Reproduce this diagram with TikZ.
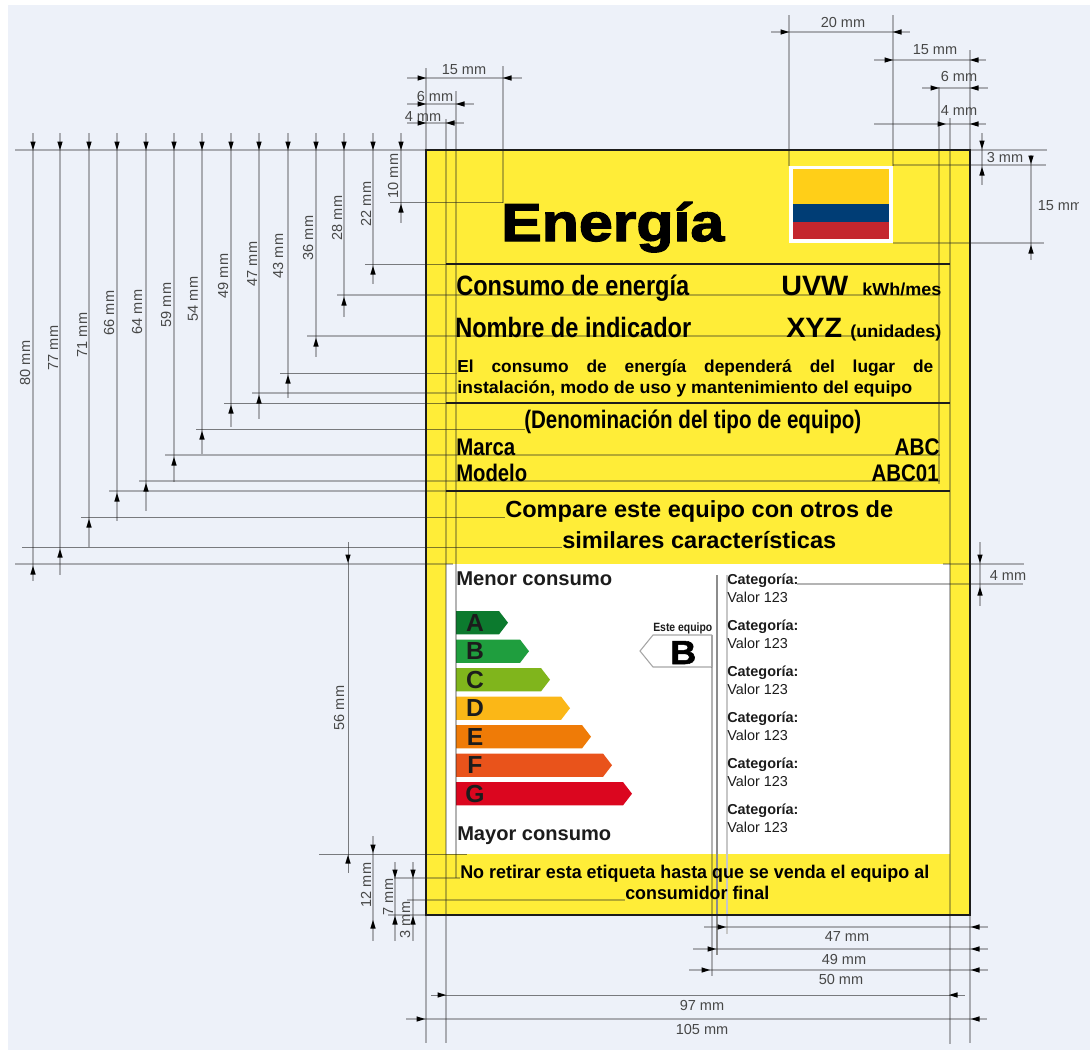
\documentclass[tikz,border=0pt]{standalone}
\usepackage{fontspec}
\usepackage{graphicx}
\setmainfont{Liberation Sans}
\newfontface\heavyfont[FakeBold=2.2]{Liberation Sans Bold}
\newfontface\heavyb[FakeBold=1.6]{Liberation Sans Bold}
\definecolor{bgblue}{HTML}{EDF1F9}
\definecolor{labelyellow}{HTML}{FFED38}
\definecolor{ink}{HTML}{1C1C1C}
\definecolor{flagY}{HTML}{FFCF18}
\definecolor{flagB}{HTML}{003D75}
\definecolor{flagR}{HTML}{C4262E}
\definecolor{barA}{HTML}{0C7A2E}
\definecolor{barB}{HTML}{1F9E3E}
\definecolor{barC}{HTML}{80B51C}
\definecolor{barD}{HTML}{FBB717}
\definecolor{barE}{HTML}{EF7B07}
\definecolor{barF}{HTML}{E9531B}
\definecolor{barG}{HTML}{DB061F}
\newcommand\sz[1]{\fontsize{#1}{#1}\selectfont}
\newcommand\wfit[2]{\resizebox{\dimexpr#1pt*3/4\relax}{\height}{#2}}
\tikzset{
  dimline/.style={draw=black!85,draw opacity=.34,line width=.85pt},
  dimdark/.style={draw=black!90,draw opacity=.55,line width=.75pt},
  dimtext/.style={text=black!72,font=\fontsize{10.9}{11}\selectfont,inner sep=0pt},
  base/.style={inner sep=0pt,text=black,font=\bfseries},
  bw/.style={base,anchor=base west},
  be/.style={base,anchor=base east},
  bc/.style={base,anchor=base},
  tipfill/.style={fill=black,draw=none},
  energyletter/.style={base,anchor=base,text=ink,font=\bfseries\sz{18.5}},
  cathead/.style={bw,text=ink,font=\bfseries\sz{10.8}},
  catval/.style={inner sep=0pt,anchor=base west,text=ink,font=\sz{10.8}},
}
\newcommand\tipd[2]{\fill[tipfill] (#1,#2) -- ++(-2.7,-8.5) -- ++(5.4,0) -- cycle;}
\newcommand\tipu[2]{\fill[tipfill] (#1,#2) -- ++(-2.7,8.5) -- ++(5.4,0) -- cycle;}
\newcommand\tipr[2]{\fill[tipfill] (#1,#2) -- ++(-8.5,-2.7) -- ++(0,5.4) -- cycle;}
\newcommand\tipl[2]{\fill[tipfill] (#1,#2) -- ++(8.5,-2.7) -- ++(0,5.4) -- cycle;}
\begin{document}
\begin{tikzpicture}[x=0.75pt,y=-0.75pt]
\useasboundingbox (0,0) rectangle (1090,1051);
\fill[white] (0,0) rectangle (1090,1051);
\fill[bgblue] (8,5) rectangle (1090,1050);
% label body
\fill[labelyellow] (426,150) rectangle (970,915);
\fill[white] (446,564) rectangle (950,854);
% flag
\fill[white] (789,166) rectangle (893,243);
\fill[flagY] (793,169) rectangle (889,204);
\fill[flagB] (793,204) rectangle (889,222);
\fill[flagR] (793,222) rectangle (889,239);
% energy bars
\foreach \yy/\tp/\col in {611/508/barA,639.5/529/barB,668/550/barC,696.5/570/barD,725/591/barE,753.5/612/barF,782/632/barG}{
  \fill[\col] (456,\yy) -- ({\tp-9},\yy) -- (\tp,\yy+11.7) -- ({\tp-9},\yy+23.4) -- (456,\yy+23.4) -- cycle;
}
% pointer box
\draw[black!35,line width=.8pt,fill=white] (712,635) -- (653,635) -- (640,651) -- (653,667) -- (712,667);
% top-left vertical dimension lines
\foreach \x/\b in {33/581,60/575,89/547,117/521,146/511,174/482,202/454,231/427,259/419,288/398,316/357,344/317,373/284,401/223}{
  \draw[dimline] (\x,133) -- (\x,\b);
  \tipd{\x}{150}
}
\draw[dimline] (15,150) -- (426,150);
\draw[dimline] (970,150) -- (1047,150);
% left reference lines
\foreach \y/\a/\b in {295/337/940,336/307/940,393/252/457,455/165/940,481/139/940,491/109/446,564/15/453}{
  \draw[dimline] (\a,\y) -- (\b,\y);
}
\foreach \y/\a/\b in {202/390/503,264/365/446,373/280/457,403/224/446,429/196/525,517/81/505,547/22/562}{
  \draw[dimdark] (\a,\y) -- (\b,\y);
}
\foreach \x/\y in {401/204,373/266,344/297,316/338,288/375,259/395,231/405,202/431,174/457,146/483,117/493,89/519,60/549,33/566}{
  \tipu{\x}{\y}
}
% top-left horizontal dims
\draw[dimline] (426,68) -- (426,1043);
\draw[dimline] (503,66) -- (503,203);
\draw[dimline] (446,119) -- (446,1043);
\draw[dimline] (456,91) -- (456,878);
\draw[dimline] (407,78) -- (522,78); \tipr{426}{78} \tipl{503}{78}
\draw[dimline] (407,104) -- (474,104); \tipr{426}{104} \tipl{456}{104}
\draw[dimline] (407,123) -- (464,123); \tipr{426}{123} \tipl{446}{123}
% top-right horizontal dims
\draw[dimline] (789,15) -- (789,166);
\draw[dimline] (893,15) -- (893,166);
\draw[dimline] (970,50) -- (970,1043);
\draw[dimline] (939,87) -- (939,484);
\draw[dimline] (950,118) -- (950,1044);
\draw[dimline] (771,32) -- (910,32); \tipr{789}{32} \tipl{893}{32}
\draw[dimline] (874,60) -- (986,60); \tipr{893}{60} \tipl{970}{60}
\draw[dimline] (922,88) -- (988,88); \tipr{939}{88} \tipl{970}{88}
\draw[dimline] (874,124) -- (986,124); \tipr{946}{124} \tipl{970}{124}
% right vertical dims
\draw[dimline] (982,133) -- (982,185); \tipd{982}{149} \tipu{982}{167}
\draw[dimline] (893,165) -- (1046,165);
\draw[dimline] (1031,155) -- (1031,260); \tipd{1031}{164} \tipu{1031}{245}
\draw[dimline] (893,243) -- (1044,243);
\draw[dimline] (980,542) -- (980,606); \tipd{980}{563} \tipu{980}{587}
\draw[dimline] (943,564) -- (1024,564);
\draw[dimline] (797,584) -- (1023,584);
% 56 mm and bottom-left
\draw[dimdark] (348,542) -- (348,873); \tipd{348}{563} \tipu{348}{855}
\draw[dimdark] (319,854) -- (467,854);
\draw[dimline] (373,836) -- (373,941); \tipd{373}{853} \tipu{373}{920}
\draw[dimline] (395,862) -- (395,941); \tipd{395}{878} \tipu{395}{916}
\draw[dimline] (413,862) -- (413,941); \tipd{413}{878} \tipu{413}{916}
\draw[dimline] (394,878) -- (460,878);
\draw[dimline] (407,900) -- (625,900);
\draw[dimline] (388,915) -- (426,915);
% bottom-right vertical lines
\draw[black!45,line width=1.1pt] (717,575) -- (717,955);
\draw[black!22,line width=1.2pt] (727,575) -- (727,934);
\draw[dimline] (712,667) -- (712,976);
\draw[black!35,line width=.8pt] (712,635) -- (712,667);
% bottom dims
\draw[dimline] (704,927) -- (988,927); \tipr{726}{927} \tipl{971}{927}
\draw[dimline] (693,949) -- (988,949); \tipr{716}{949} \tipl{971}{949}
\draw[dimline] (689,970) -- (988,970); \tipr{710}{970} \tipl{971}{970}
\draw[dimdark] (431,995) -- (965,995); \tipr{446}{995} \tipl{949}{995}
\draw[dimline] (406,1019) -- (987,1019); \tipr{425}{1019} \tipl{971}{1019}
% label border and rules
\draw[ink,line width=1.9pt] (426,150) rectangle (970,915);
\foreach \y in {264,403,491} \draw[ink,line width=1pt] (446,\y) -- (950,\y);
% dimension texts
\foreach \nm/\x/\y/\t in {a/393/176/10,b/366/204/22,c/337/218/28,d/308/238/36,e/278/256/43,f/252/264/47,g/223/276/49,h/193/299/54,i/166/305/59,j/137/312/64,k/109/313/66,l/82/335/71,m/53/348/77,n/25/363/80,o/339/708/56,p/366/885/12,q/388/897/7,r/405/920/3}{
  \node[dimtext,rotate=90] (v\nm) at (\x,\y) {\t\ mm};
}
\foreach \nm/\x/\y/\t in {a/464/70/15,b/435/96/6,c/423/116/4,d/843/22/20,e/935/50/15,f/959/76/6,g/959/110/4,h/1005/157/3,i/1008/575/4,j/847/936/47,k/844/959/49,l/841/979/50,m/702/1005/97,n/702/1029/105}{
  \node[dimtext] (h\nm) at (\x,\y) {\t\ mm};
}
\begin{scope}
\clip (1034,190) rectangle (1078,225);
\node[dimtext,anchor=west] (hclip) at (1037.5,206) {15 mm};
\end{scope}
% label texts
\node[base,anchor=base west] (title) at (501,241) {\wfit{223}{\heavyfont\sz{40}Energía}};
\node[bw,font=\bfseries\sz{21}] (t1) at (456,295) {\wfit{233}{Consumo de energía}};
\node[bw,font=\bfseries\sz{21}] (t2) at (455,337) {\wfit{236}{Nombre de indicador}};
\node[bw,font=\bfseries\sz{21}] (t3) at (781,295) {\wfit{67}{UVW}};
\node[bw,font=\bfseries\sz{21}] (t4) at (786,337) {\wfit{56}{XYZ}};
\node[bw,font=\bfseries\sz{13}] (t5) at (862,295) {\wfit{79}{kWh/mes}};
\node[bw,font=\bfseries\sz{13}] (t6) at (850,337) {\wfit{91}{(unidades)}};
\node[bw,font=\bfseries\sz{13}] (t7) at (457,372.5) {\makebox[357pt][s]{El\hfill consumo\hfill de\hfill energía\hfill dependerá\hfill del\hfill lugar\hfill de}};
\node[bw,font=\bfseries\sz{13}] (t8) at (457,393) {\wfit{455}{instalación, modo de uso y mantenimiento del equipo}};
\node[bw,font=\bfseries\sz{19}] (t9) at (524,428) {\wfit{337}{(Denominación del tipo de equipo)}};
\node[bw,font=\bfseries\sz{18}] (t10) at (456,455) {\wfit{59}{Marca}};
\node[bw,font=\bfseries\sz{18}] (t11) at (456,481) {\wfit{71}{Modelo}};
\node[be,font=\bfseries\sz{18}] (t12) at (940,455) {\wfit{45}{ABC}};
\node[be,font=\bfseries\sz{18}] (t13) at (939,481) {\wfit{67}{ABC01}};
\node[bw,font=\bfseries\sz{17.5}] (t14) at (505,517) {\wfit{388}{Compare este equipo con otros de}};
\node[bw,font=\bfseries\sz{17.5}] (t15) at (562,548) {\wfit{274}{similares características}};
\node[bw,text=ink,font=\bfseries\sz{15}] (t16) at (456,585) {\wfit{156}{Menor consumo}};
\node[bw,text=ink,font=\bfseries\sz{15}] (t17) at (457,840) {\wfit{154}{Mayor consumo}};
\node[bw,font=\bfseries\sz{13.8}] (t18) at (460,878) {\wfit{469}{No retirar esta etiqueta hasta que se venda el equipo al}};
\node[bw,font=\bfseries\sz{13.8}] (t19) at (625,899) {\wfit{144}{consumidor final}};
\node[bw,text=ink,font=\bfseries\sz{9}] (t20) at (653,631) {\wfit{59}{Este equipo}};
\node[base,anchor=base west] (t21) at (670,664) {\wfit{26}{\heavyb\sz{25}B}};
% bar letters
\foreach \nm/\yy/\t in {A/631,B/659.5,C/688,D/716.5,E/745,F/773.5,G/802}{
  \node[energyletter] (L\nm) at (475,\yy) {\nm};
}
% categories
\foreach \i/\yy in {1/584,2/630,3/676,4/722,5/768,6/814}{
  \node[cathead] (cat\i) at (727,\yy) {Categoría:};
  \node[catval] (val\i) at (727,\yy+18) {Valor 123};
}
\end{tikzpicture}
\end{document}
